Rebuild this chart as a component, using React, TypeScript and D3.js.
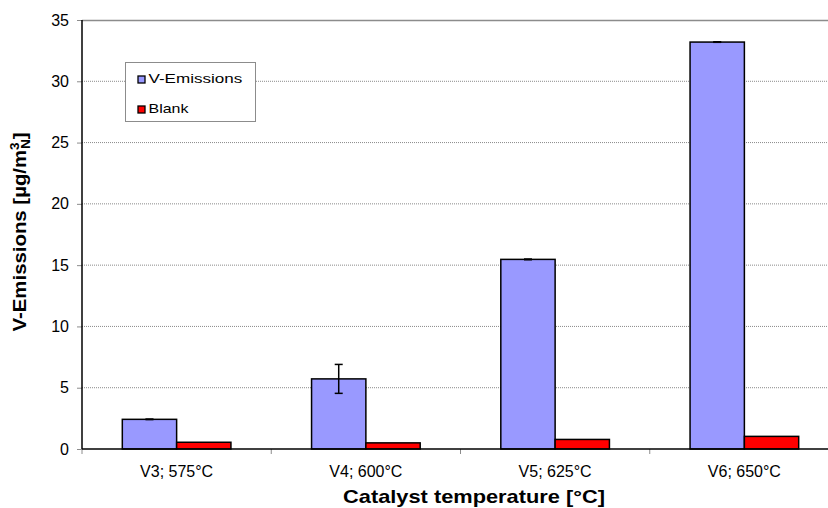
import { useEffect, useRef } from 'react'
import * as d3 from 'd3'

const categories = ['V3; 575°C', 'V4; 600°C', 'V5; 625°C', 'V6; 650°C']
const emissions = [2.42, 5.72, 15.47, 33.2]
const emissionErr = [0.02, 1.18, 0.03, 0.02]
const blank = [0.55, 0.5, 0.78, 1.03]
const yTicks = [0, 5, 10, 15, 20, 25, 30, 35]
const seriesNames = ['V-Emissions', 'Blank']
const seriesColors = ['#9999ff', '#ff0000']

const W = 828
const H = 508
const M = { top: 20, left: 82, plotW: 757, plotH: 429 }
const FONT = 'Liberation Sans, Arial, sans-serif'

// stretch a text horizontally (in its own direction) to a measured width
function fitText(
  parent: d3.Selection<any, unknown, null, undefined>,
  x: number, y: number, rot: number, target: number, anchor: string
) {
  const g = parent.append('g')
  const t = g.append('text').attr('text-anchor', anchor).attr('font-family', FONT)
  const apply = () => {
    const w = (t.node() as SVGTextElement).getComputedTextLength()
    const s = w > 0 ? target / w : 1
    g.attr('transform', `translate(${x},${y}) rotate(${rot}) scale(${s},1)`)
  }
  return { t, apply }
}

export default function App() {
  const ref = useRef<SVGSVGElement>(null)

  useEffect(() => {
    document.body.style.margin = '0'
    document.body.style.overflow = 'hidden'
    if (!ref.current) return
    const svg = d3.select(ref.current)
    svg.selectAll('*').remove()

    const x = d3.scaleBand().domain(categories).range([0, M.plotW])
    const y = d3.scaleLinear().domain([0, 35]).range([M.plotH, 0])
    const inner = d3.scaleBand().domain(seriesNames).range([0, x.bandwidth() * 0.574]).padding(0)
    const groupOffset = (x.bandwidth() - x.bandwidth() * 0.574) / 2

    const g = svg.append('g').attr('transform', `translate(${M.left},${M.top})`)

    // grid
    g.selectAll('.grid')
      .data(yTicks.filter(t => t > 0 && t < 35))
      .enter()
      .append('line')
      .attr('x1', 0)
      .attr('x2', M.plotW)
      .attr('y1', d => y(d))
      .attr('y2', d => y(d))
      .attr('stroke', '#8a8a8a')
      .attr('stroke-width', 1)
      .attr('stroke-dasharray', '1,1')

    // frame top
    g.append('line')
      .attr('x1', 0).attr('x2', M.plotW)
      .attr('y1', 0.5).attr('y2', 0.5)
      .attr('stroke', '#8c8c8c').attr('stroke-width', 1.5)

    const series = [emissions, blank]
    series.forEach((vals, si) => {
      g.selectAll(`.bar-${si}`)
        .data(vals)
        .enter()
        .append('rect')
        .attr('x', (_, i) => (x(categories[i]) ?? 0) + groupOffset + (inner(seriesNames[si]) ?? 0))
        .attr('y', d => y(d))
        .attr('width', inner.bandwidth())
        .attr('height', d => M.plotH - y(d))
        .attr('fill', seriesColors[si])
        .attr('stroke', '#000')
        .attr('stroke-width', 1.5)
    })

    // error bars on emissions
    emissions.forEach((v, i) => {
      const cx = (x(categories[i]) ?? 0) + groupOffset + (inner(seriesNames[0]) ?? 0) + inner.bandwidth() / 2
      const e = emissionErr[i]
      g.append('line')
        .attr('x1', cx).attr('x2', cx)
        .attr('y1', y(v + e)).attr('y2', y(v - e))
        .attr('stroke', '#000').attr('stroke-width', 1.5)
      ;[v + e, v - e].forEach(t => {
        g.append('line')
          .attr('x1', cx - 4).attr('x2', cx + 4)
          .attr('y1', y(t)).attr('y2', y(t))
          .attr('stroke', '#000').attr('stroke-width', 1.5)
      })
    })

    // y axis
    const yAxis = g.append('g').call(d3.axisLeft(y).tickValues(yTicks).tickSize(5).tickPadding(8))
    yAxis.select('.domain').remove()
    yAxis.selectAll('.tick line').attr('stroke', '#8c8c8c')
    yAxis.selectAll('text')
      .attr('font-family', FONT)
      .attr('font-size', '16px')
      .attr('fill', '#000')
    g.append('line')
      .attr('x1', 0).attr('x2', 0)
      .attr('y1', 0).attr('y2', M.plotH)
      .attr('stroke', '#000').attr('stroke-width', 1.5)

    // x axis
    const xTickPos = d3.range(categories.length + 1).map(i => i * x.step())
    g.selectAll('.xtick')
      .data(xTickPos)
      .enter()
      .append('line')
      .attr('x1', d => d).attr('x2', d => d)
      .attr('y1', M.plotH).attr('y2', M.plotH + 5)
      .attr('stroke', '#8c8c8c')
    g.append('line')
      .attr('x1', 0).attr('x2', M.plotW)
      .attr('y1', M.plotH).attr('y2', M.plotH)
      .attr('stroke', '#000').attr('stroke-width', 1.5)
    g.selectAll('.xlab')
      .data(categories)
      .enter()
      .append('text')
      .attr('x', d => (x(d) ?? 0) + x.bandwidth() / 2)
      .attr('y', M.plotH + 28)
      .attr('text-anchor', 'middle')
      .attr('font-family', FONT)
      .attr('font-size', '16px')
      .text(d => d)

    // axis titles
    const xt = fitText(svg as any, 474, 503, 0, 262, 'middle')
    xt.t.attr('font-size', '18px').attr('font-weight', 'bold').text('Catalyst temperature [°C]')
    xt.apply()

    const yt = fitText(svg as any, 26, 232, -90, 206, 'middle')
    yt.t.attr('font-size', '18px').attr('font-weight', 'bold')
    yt.t.append('tspan').text('V-Emissions [µg/m')
    yt.t.append('tspan').attr('dy', -7).attr('font-size', '12px').text('3')
    yt.t.append('tspan').attr('dy', 11).attr('dx', -6).attr('font-size', '12px').text('N')
    yt.t.append('tspan').attr('dy', -4).text(']')
    yt.apply()

    // legend
    const lg = svg.append('g').attr('transform', 'translate(125.5,62.5)')
    lg.append('rect')
      .attr('width', 130).attr('height', 59)
      .attr('fill', '#fff').attr('stroke', '#8c8c8c').attr('stroke-width', 1)
    const legendWidths = [94, 40]
    seriesNames.forEach((name, i) => {
      lg.append('rect')
        .attr('x', 12.5).attr('y', 13.5 + i * 30)
        .attr('width', 7).attr('height', 7)
        .attr('fill', seriesColors[i]).attr('stroke', '#000').attr('stroke-width', 1.3)
      const lt = fitText(lg as any, 23, 20 + i * 30, 0, legendWidths[i], 'start')
      lt.t.attr('font-size', '13px').text(name)
      lt.apply()
    })
  }, [])

  return (
    <div>
      <svg ref={ref} width={W} height={H} style={{ display: 'block', background: '#fff' }} />
    </div>
  )
}
